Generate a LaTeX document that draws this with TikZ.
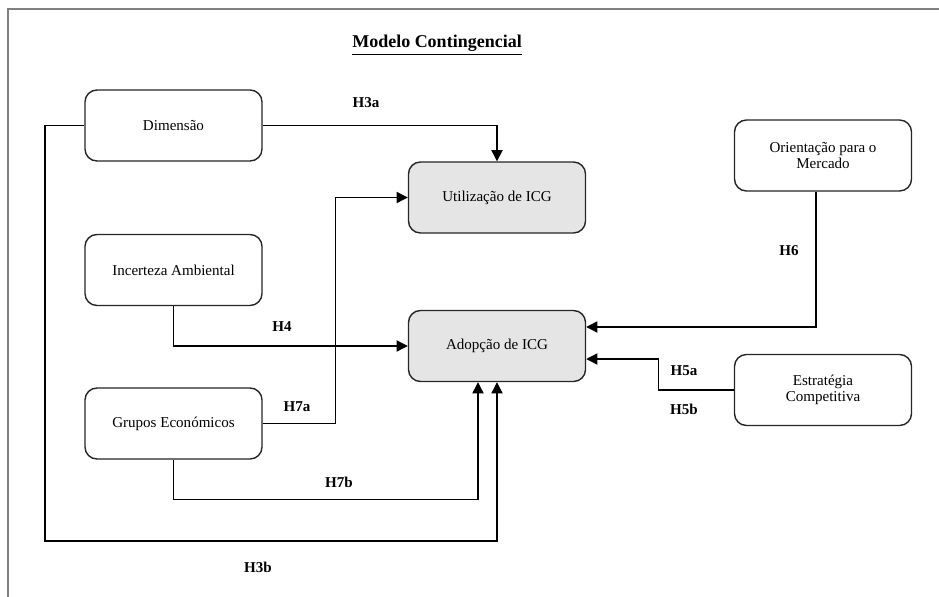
\documentclass[tikz,border=0pt]{standalone}
\usepackage{fontspec}
\setmainfont{Liberation Serif}
\usetikzlibrary{calc, positioning, arrows.meta}
\tikzset{
  font=\fontsize{10.7}{12}\selectfont,
  % Set arrowhead
  >={Triangle[length=0.28cm, width=0.28cm]},
  % Variable node
  vnode/.style={draw=black!85, line width=1pt, fill=white, shape=rectangle,
    rounded corners=0.3cm, minimum width=4.425cm, minimum height=1.775cm,
    align=center, inner sep=0pt, font=\fontsize{10.7}{11.5}\selectfont},
  % Dependent node
  dnode/.style={vnode, fill=black!10},
  % Hypothesis label
  hlabel/.style={font=\fontsize{10.7}{12}\selectfont\bfseries, inner sep=0pt},
  % Connectors
  link/.style={->, line width=0.9pt},
}

\begin{document}
\begin{tikzpicture}[x=0.025cm, y=-0.025cm]
  \useasboundingbox (0,0) rectangle (939,597);
  % frame
  \draw[black!50, line width=1.4pt] (939,9) -- (8,9) -- (8,597);

  \node[font=\fontsize{12.8}{15}\selectfont\bfseries, inner sep=0pt] (title)
    at (437,45) {\underline{Modelo Contingencial}};

  \node[vnode] (dim) at (173.5,125.5) {Dimensão};
  \node[vnode] (inc) at (173.5,270) {Incerteza Ambiental};
  \node[vnode] (grp) at (173.5,423.5) {Grupos Económicos};
  \node[dnode] (uti) at (497,197.5) {Utilização de ICG};
  \node[dnode] (ado) at (497,346) {Adopção de ICG};
  \node[vnode] (ori) at (823,155.5) {Orientação para o\\Mercado};
  \node[vnode] (est) at (823,390) {Estratégia\\Competitiva};

  \coordinate (h3b) at (45,541);

  \draw[link] (dim.east) -| (uti.north);
  \draw[link] (dim.west) -| (h3b) -| (ado.south);
  \draw[link] (inc.south) |- (ado.west);
  \draw[link] (grp.east) -- ++(73,0) |- (uti.west);
  \draw[link] (grp.south) -- ++(0,40) -| ([xshift=-0.475cm]ado.south);
  \draw[link] ([xshift=-0.175cm]ori.south) |- ([yshift=0.475cm]ado.east);
  \draw[link] (est.west) -- ++(-75,0) |- ([yshift=-0.325cm]ado.east);

  \node[hlabel] (l3a) at (366,103) {H3a};
  \node[hlabel] (l3b) at (258,567) {H3b};
  \node[hlabel] (l4) at (282,327) {H4};
  \node[hlabel] (l7a) at (297,407) {H7a};
  \node[hlabel] (l7b) at (339,482) {H7b};
  \node[hlabel] (l6) at (789,251) {H6};
  \node[hlabel] (l5a) at (684,371) {H5a};
  \node[hlabel] (l5b) at (684,409) {H5b};
\end{tikzpicture}
\end{document}
